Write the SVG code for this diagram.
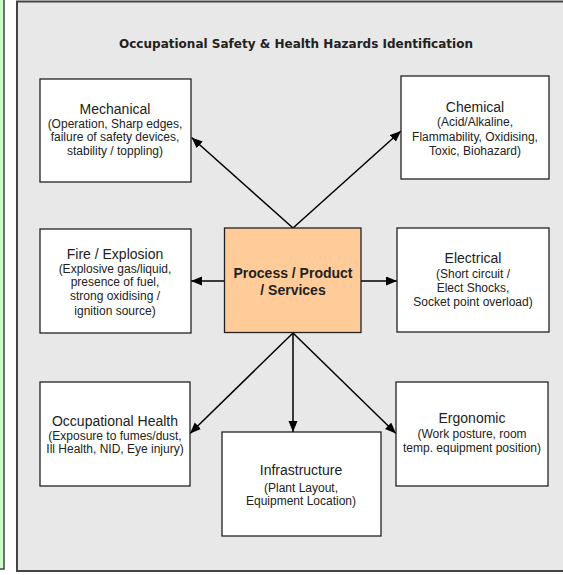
<svg xmlns="http://www.w3.org/2000/svg" width="563" height="575" viewBox="0 0 563 575">
<style>
.box{fill:#ffffff;stroke:#222;stroke-width:1.3}
.h{font-family:"Liberation Sans",Arial,sans-serif;font-size:14px;fill:#222;text-anchor:middle}
.s{font-family:"Liberation Sans",Arial,sans-serif;font-size:12px;fill:#222;text-anchor:middle}
.b{font-family:"Liberation Sans",Arial,sans-serif;font-size:14px;font-weight:bold;fill:#222;text-anchor:middle}
.c{stroke:#000;stroke-width:1.5;fill:none;marker-end:url(#ah)}
</style>
<defs>
<marker id="ah" markerUnits="userSpaceOnUse" markerWidth="12" markerHeight="10" refX="11" refY="4.5" orient="auto">
<path d="M0,0 L11,4.5 L0,9 z" fill="#000"/>
</marker>
</defs>
<rect x="0" y="0" width="563" height="575" fill="#ffffff"/>
<rect x="-5" y="-2" width="9" height="571" fill="#ccffcc" stroke="#444" stroke-width="1.5"/>
<rect x="17" y="1.5" width="560" height="569.5" fill="#e8e8e8" stroke="#444" stroke-width="2"/>
<text x="296" y="48" font-family="'DejaVu Sans',sans-serif" font-size="11.8" font-weight="bold" fill="#222" text-anchor="middle" textLength="354" lengthAdjust="spacingAndGlyphs">Occupational Safety &amp; Health Hazards Identification</text>
<g id="connectors">
<line class="c" x1="293" y1="228" x2="191.5" y2="137.5"/>
<line class="c" x1="293" y1="228" x2="401" y2="131"/>
<line class="c" x1="225" y1="281" x2="191" y2="281"/>
<line class="c" x1="361" y1="281" x2="397" y2="281"/>
<line class="c" x1="293" y1="333" x2="190" y2="433.5"/>
<line class="c" x1="293" y1="333" x2="293" y2="432"/>
<line class="c" x1="293" y1="333" x2="396" y2="433.5"/>
</g>
<g id="mechanical">
<rect class="box" x="40" y="79" width="151" height="103"/>
<text class="h" x="115" y="113.5">Mechanical</text>
<text class="s" x="115" y="127.5">(Operation, Sharp edges,</text>
<text class="s" x="115" y="141">failure of safety devices,</text>
<text class="s" x="115" y="154.5">stability / toppling)</text>
</g>
<g id="chemical">
<rect class="box" x="401" y="76" width="148" height="103"/>
<text class="h" x="475" y="111.5">Chemical</text>
<text class="s" x="475" y="126">(Acid/Alkaline,</text>
<text class="s" x="475" y="140.5">Flammability, Oxidising,</text>
<text class="s" x="475" y="155">Toxic, Biohazard)</text>
</g>
<g id="fire">
<rect class="box" x="40" y="229" width="151" height="104"/>
<text class="h" x="115" y="258.5">Fire / Explosion</text>
<text class="s" x="115" y="272.5">(Explosive gas/liquid,</text>
<text class="s" x="115" y="286">presence of fuel,</text>
<text class="s" x="115" y="300">strong oxidising /</text>
<text class="s" x="115" y="314.5">ignition source)</text>
</g>
<g id="process">
<rect x="224.5" y="228" width="136.5" height="104.5" fill="#ffcc99" stroke="#222" stroke-width="1.3"/>
<text class="b" x="293" y="278.3">Process / Product</text>
<text class="b" x="293" y="294.5">/ Services</text>
</g>
<g id="electrical">
<rect class="box" x="397" y="228" width="152" height="104"/>
<text class="h" x="473" y="263.3">Electrical</text>
<text class="s" x="473" y="277.5">(Short circuit /</text>
<text class="s" x="473" y="291.5">Elect Shocks,</text>
<text class="s" x="473" y="305.5">Socket point overload)</text>
</g>
<g id="occupational-health">
<rect class="box" x="40" y="382" width="150" height="104"/>
<text class="h" x="115" y="425.5">Occupational Health</text>
<text class="s" x="115" y="439.5">(Exposure to fumes/dust,</text>
<text class="s" x="115" y="453">Ill Health, NID, Eye injury)</text>
</g>
<g id="infrastructure">
<rect class="box" x="222" y="432" width="159" height="104"/>
<text class="h" x="301" y="475">Infrastructure</text>
<text class="s" x="301" y="491.5">(Plant Layout,</text>
<text class="s" x="301" y="505">Equipment Location)</text>
</g>
<g id="ergonomic">
<rect class="box" x="396" y="382" width="152" height="104"/>
<text class="h" x="472" y="422.7">Ergonomic</text>
<text class="s" x="472" y="438">(Work posture, room</text>
<text class="s" x="472" y="452">temp. equipment position)</text>
</g>
</svg>
